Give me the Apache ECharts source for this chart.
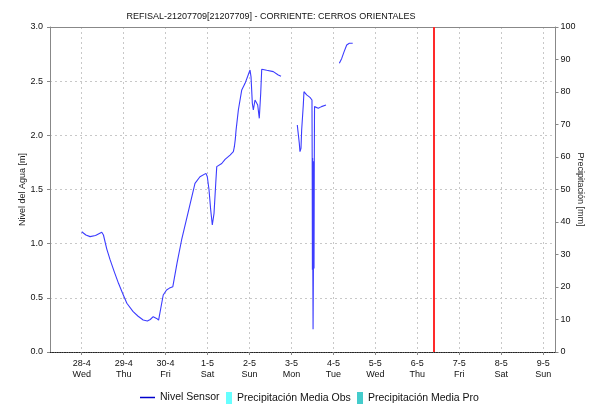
<!DOCTYPE html>
<html><head><meta charset="utf-8">
<script src="https://cdn.jsdelivr.net/npm/echarts@6/dist/echarts.min.js"></script>
<style>html,body{margin:0;padding:0;background:#fff}#c{width:589px;height:405px}</style>
</head><body><div id="c"></div>
<script>
const chartTitle = 'REFISAL-21207709[21207709] - CORRIENTE: CERROS ORIENTALES';
const dayLabels = ['28-4','29-4','30-4','1-5','2-5','3-5','4-5','5-5','6-5','7-5','8-5','9-5'];
const weekdayLabels = ['Wed','Thu','Fri','Sat','Sun','Mon','Tue','Wed','Thu','Fri','Sat','Sun'];
const dayTicks = [0,1,2,3,4,5,6,7,8,9,10,11];
// time in days since 28-4 00:00, null level = gap in record
const timeDays = [
  0.000,0.100,0.199,0.329,0.478,0.518,0.598,0.678,0.777,0.877,0.976,1.076,1.226,1.345,1.465,1.564,
  1.634,1.704,1.784,1.833,1.943,2.023,2.092,2.172,2.272,2.381,2.541,2.700,2.819,2.962,2.994,3.035,
  3.075,3.113,3.154,3.195,3.219,3.338,3.417,3.536,3.615,3.639,3.660,3.680,3.734,3.815,3.894,4.012,
  4.036,4.067,4.091,4.131,4.155,4.195,4.233,4.267,4.291,4.410,4.567,4.686,4.751,
  4.900,
  5.139,5.156,5.187,5.203,5.227,5.243,5.282,5.298,5.362,5.441,5.489,5.494,5.499,5.504,5.509,5.515,
  5.523,5.530,5.538,5.544,5.550,5.639,5.715,5.823,
  5.950,
  6.141,6.198,6.253,6.317,6.379,6.460
];
const nivelSensor = [
  1.11,1.08,1.065,1.075,1.105,1.08,0.95,0.85,0.74,0.634,0.54,0.45,0.372,0.33,0.295,0.286,
  0.30,0.326,0.31,0.295,0.526,0.572,0.59,0.603,0.82,1.034,1.295,1.557,1.618,1.649,1.618,1.495,
  1.311,1.172,1.28,1.557,1.711,1.74,1.778,1.818,1.849,1.895,1.96,2.05,2.234,2.419,2.48,2.603,
  2.54,2.296,2.234,2.326,2.31,2.28,2.157,2.388,2.61,2.60,2.588,2.557,2.545,
  null,
  2.095,2.034,1.926,1.849,1.88,2.05,2.28,2.403,2.373,2.35,2.326,1.80,0.76,1.79,0.78,0.21,
  0.75,1.76,0.77,1.757,2.265,2.25,2.265,2.28,
  null,
  2.665,2.71,2.77,2.834,2.85,2.85
];
const precipMediaObs = [];
const precipMediaPro = [];
const nowDay = 8.405;
const xRange = [-0.756, 11.294];
const levelRange = [0, 3, 0.5];
const precipRange = [0, 100, 10];

const FONT = 'Liberation Sans, Arial, sans-serif';
const chart = echarts.init(document.getElementById('c'), null, {renderer: 'canvas'});
const lineData = timeDays.map((t, i) => [t, nivelSensor[i] === null ? '-' : nivelSensor[i]]);
const baseText = {fontFamily: FONT, fontSize: 9, color: '#111'};

chart.setOption({
  animation: false,
  backgroundColor: '#fff',
  textStyle: {fontFamily: FONT},
  title: {
    text: chartTitle, left: 266, top: 7, textAlign: 'center',
    textStyle: {fontFamily: FONT, fontSize: 9, fontWeight: 'normal', color: '#111'}
  },
  grid: {left: 50, right: 33.5, top: 27, bottom: 53, show: false, outerBoundsMode: 'none', containLabel: false},
  legend: [
    {data: [{name: 'Nivel Sensor', itemStyle: {color: '#0000cc'}}], left: 135, top: 387,
     itemWidth: 15, itemHeight: 1.5, icon: 'rect', textStyle: {fontFamily: FONT, fontSize: 10.5, color: '#111'}},
    {data: ['Precipitación Media Obs'], left: 221, top: 387, itemWidth: 6, itemHeight: 12, icon: 'rect',
     textStyle: {fontFamily: FONT, fontSize: 10.5, color: '#111'}},
    {data: ['Precipitación Media Pro'], left: 352, top: 387, itemWidth: 6, itemHeight: 12, icon: 'rect',
     textStyle: {fontFamily: FONT, fontSize: 10.5, color: '#111'}}
  ],
  xAxis: [{
    type: 'value', min: xRange[0], max: xRange[1], position: 'bottom',
    axisLine: {show: true, onZero: false, lineStyle: {color: '#222', type: 'dotted', width: 1.2}},
    axisTick: {show: true, length: 3, customValues: dayTicks, lineStyle: {color: '#888'}},
    axisLabel: {customValues: dayTicks, margin: 6, lineHeight: 11, ...baseText,
      formatter: v => { const i = Math.round(v); return dayLabels[i] + '\n' + weekdayLabels[i]; }},
    splitLine: {show: true, customValues: dayTicks, lineStyle: {color: '#c8c8c8', type: [2, 3]}}
  }, {
    type: 'value', min: xRange[0], max: xRange[1], position: 'top',
    axisLine: {show: true, onZero: false, lineStyle: {color: '#888', width: 1}},
    axisTick: {show: false}, axisLabel: {show: false}, splitLine: {show: false}
  }],
  yAxis: [{
    type: 'value', min: levelRange[0], max: levelRange[1], interval: levelRange[2], position: 'left',
    name: 'Nivel del Agua [m]', nameLocation: 'middle', nameGap: 23, nameMoveOverlap: false,
    nameTextStyle: {...baseText, color: '#222'},
    axisLine: {show: true, onZero: false, lineStyle: {color: '#888'}},
    axisTick: {show: true, length: 3, lineStyle: {color: '#888'}},
    axisLabel: {margin: 7, ...baseText, formatter: v => v.toFixed(1)},
    splitLine: {show: true, lineStyle: {color: '#c8c8c8', type: [2, 3]}}
  }, {
    type: 'value', min: precipRange[0], max: precipRange[1], interval: precipRange[2], position: 'right',
    name: 'Precipitación [mm]', nameLocation: 'middle', nameGap: 20, nameRotate: -90, nameMoveOverlap: false,
    nameTextStyle: {...baseText, color: '#222'},
    axisLine: {show: true, onZero: false, lineStyle: {color: '#888'}},
    axisTick: {show: true, length: 3, lineStyle: {color: '#888'}},
    axisLabel: {margin: 5, ...baseText},
    splitLine: {show: false}
  }],
  series: [{
    name: 'Nivel Sensor', type: 'line', xAxisIndex: 0, yAxisIndex: 0, data: lineData,
    showSymbol: false, connectNulls: false,
    lineStyle: {color: '#3c3cff', width: 1.1}, itemStyle: {color: '#3c3cff'},
    markLine: {
      silent: true, symbol: ['none', 'none'], label: {show: false},
      lineStyle: {color: '#ff2a2a', type: 'solid', width: 2},
      data: [{xAxis: nowDay}]
    }
  }, {
    name: 'Precipitación Media Obs', type: 'bar', xAxisIndex: 0, yAxisIndex: 1, data: precipMediaObs,
    itemStyle: {color: '#66ffff'}
  }, {
    name: 'Precipitación Media Pro', type: 'bar', xAxisIndex: 0, yAxisIndex: 1, data: precipMediaPro,
    itemStyle: {color: '#44cccc'}
  }]
});
</script></body></html>
